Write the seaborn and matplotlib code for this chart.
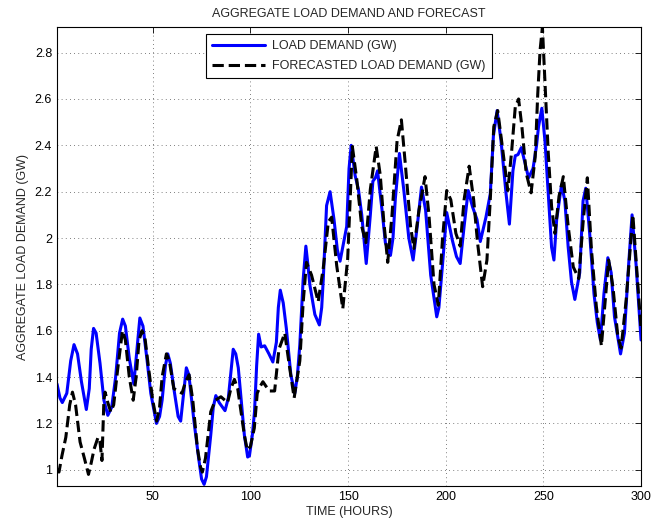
import seaborn as sns
import matplotlib.pyplot as plt
from matplotlib.ticker import FuncFormatter

# Aggregate load demand (GW)
load_hours = [1, 2.5, 3.7, 6, 8, 9.7, 11.5, 13.5, 16, 17.5, 18.5, 19.7, 21, 23, 25, 27, 29, 31, 33,
              34.6, 36, 38, 40.3, 41.5, 43.4, 45, 47, 49, 51.9, 53.5, 54.8, 56.5, 57.7, 59, 61, 63,
              64.3, 65.7, 67.2, 68.5, 71.1, 73.5, 75, 76.3, 77.5, 79.7, 81, 82.3, 84, 87, 88.7, 90,
              91.2, 92.5, 93.8, 95.5, 96.9, 98.6, 99.5, 101, 102.1, 103.2, 104.2, 105.5, 107.3,
              109.5, 111.5, 113.3, 114.3, 115.3, 116.8, 118.4, 120.7, 122.7, 124, 125.3, 127,
              128.4, 129.5, 130.4, 133, 135.3, 136.5, 137.3, 139, 140.8, 142.8, 144.5, 145.9,
              147.5, 149.3, 150.5, 151.6, 153.6, 155.3, 157, 159.3, 161.4, 162.7, 164, 165.1,
              167.4, 169.1, 171.7, 173, 174.2, 176.3, 178.5, 181.1, 183.3, 185.4, 187.6, 189.7,
              192.3, 195.4, 196.5, 198.3, 200.5, 203.4, 205.5, 207.4, 209.4, 211.5, 213.7, 216,
              217.7, 220.6, 222.8, 224.4, 226.3, 228.3, 230.9, 232.6, 234.4, 235.6, 237, 238.7,
              240.4, 242.4, 244.7, 246.5, 247.5, 249.2, 250.8, 252.5, 254.2, 255.4, 256.8, 259.3,
              261, 262.7, 264.4, 266.1, 268.6, 270.3, 271.7, 273.7, 275.9, 277.6, 279.2, 281, 283,
              284.7, 286.4, 289.5, 291.5, 293.6, 295.4, 297.5, 300]
load_gw = [1.37, 1.31, 1.29, 1.33, 1.47, 1.54, 1.50, 1.38, 1.26, 1.35, 1.52, 1.61, 1.59, 1.46, 1.30,
           1.235, 1.27, 1.40, 1.59, 1.65, 1.62, 1.48, 1.37, 1.48, 1.655, 1.62, 1.48, 1.33, 1.20,
           1.23, 1.30, 1.45, 1.50, 1.46, 1.34, 1.23, 1.21, 1.32, 1.44, 1.41, 1.21, 1.05, 0.96,
           0.937, 0.97, 1.15, 1.27, 1.32, 1.29, 1.255, 1.31, 1.42, 1.52, 1.50, 1.44, 1.28, 1.15,
           1.055, 1.06, 1.15, 1.25, 1.45, 1.585, 1.53, 1.535, 1.50, 1.465, 1.55, 1.70, 1.775,
           1.72, 1.61, 1.41, 1.33, 1.40, 1.54, 1.82, 1.965, 1.88, 1.80, 1.67, 1.625, 1.70, 1.82,
           2.14, 2.20, 2.08, 1.95, 1.90, 1.97, 2.05, 2.30, 2.40, 2.27, 2.21, 2.10, 1.89, 2.10,
           2.245, 2.26, 2.29, 2.12, 1.98, 1.925, 2.00, 2.17, 2.365, 2.21, 2.00, 1.905, 2.05, 2.22,
           2.12, 1.84, 1.66, 1.70, 1.88, 2.11, 1.99, 1.92, 1.89, 2.05, 2.205, 2.135, 2.08, 1.985,
           2.09, 2.19, 2.44, 2.55, 2.42, 2.19, 2.06, 2.29, 2.355, 2.36, 2.39, 2.33, 2.26, 2.30,
           2.40, 2.48, 2.56, 2.42, 2.19, 1.96, 1.905, 2.08, 2.23, 2.16, 1.96, 1.81, 1.735, 1.85,
           2.16, 2.215, 2.02, 1.76, 1.635, 1.56, 1.76, 1.915, 1.85, 1.66, 1.50, 1.59, 1.88, 2.10,
           1.88, 1.56]

# Forecasted load demand (GW)
forecast_hours = [1, 2, 3.5, 5.5, 7.5, 8.9, 10.5, 12.8, 15, 17.1, 18.5, 20, 22, 23, 24, 25, 25.6, 27,
                  28.5, 30, 32, 34.5, 36, 38, 40, 41.5, 43, 44.5, 46, 48, 50, 52, 53.5, 54.8, 57,
                  58.5, 60.8, 63, 65, 66.8, 68.6, 70.5, 72.9, 74.5, 75.4, 77, 79.7, 82, 84.9, 88.3,
                  90, 91.8, 93.5, 96.9, 98.4, 100, 102, 103.5, 105, 106.4, 108, 109.8, 112.4, 114.6,
                  117.6, 120.1, 122.4, 125.3, 127, 128.7, 131.3, 134.7, 137.3, 139.9, 141.6, 144.2,
                  147.3, 149.8, 152.2, 154.5, 157, 159.1, 161.4, 164.4, 166.5, 168.2, 170.3, 172.5,
                  175.1, 177.3, 179.4, 182, 183.7, 186.3, 189.4, 191.4, 194, 196.2, 198.3, 200.5,
                  202.6, 205.2, 207.4, 209.4, 212, 214.3, 216.3, 218.9, 221.1, 222.8, 224.6, 226.6,
                  229.2, 231.8, 233.8, 235.6, 237.3, 239, 241.2, 243.7, 245.8, 247.1, 248.3, 249.5,
                  250.8, 252.5, 254.2, 255.9, 258, 260.2, 262.7, 265.3, 268.1, 270.3, 272.5, 274.6,
                  277.1, 279.7, 281.7, 283.4, 285.6, 288.1, 289.8, 292.4, 295.8, 298.3, 300]
forecast_gw = [1.00, 0.99, 1.06, 1.14, 1.28, 1.335, 1.28, 1.12, 1.05, 0.98, 1.03, 1.09, 1.14, 1.12,
               1.04, 1.30, 1.335, 1.29, 1.25, 1.28, 1.43, 1.60, 1.56, 1.40, 1.30, 1.40, 1.56, 1.60,
               1.57, 1.43, 1.30, 1.21, 1.27, 1.40, 1.50, 1.47, 1.35, 1.34, 1.33, 1.38, 1.41, 1.30,
               1.09, 1.01, 0.99, 1.05, 1.25, 1.30, 1.315, 1.29, 1.35, 1.39, 1.35, 1.15, 1.085, 1.10,
               1.18, 1.33, 1.36, 1.38, 1.36, 1.34, 1.34, 1.52, 1.59, 1.44, 1.31, 1.47, 1.72, 1.895,
               1.84, 1.725, 1.87, 2.07, 2.09, 1.88, 1.695, 1.91, 2.395, 2.25, 2.05, 1.98, 2.21,
               2.395, 2.27, 2.08, 1.895, 2.10, 2.42, 2.51, 2.31, 2.05, 1.955, 2.12, 2.265, 2.10,
               1.80, 1.71, 1.99, 2.205, 2.165, 2.02, 1.965, 2.165, 2.31, 2.165, 1.98, 1.79, 1.905,
               2.165, 2.48, 2.55, 2.38, 2.205, 2.38, 2.565, 2.60, 2.48, 2.28, 2.195, 2.35, 2.62,
               2.81, 2.91, 2.67, 2.365, 2.135, 2.02, 2.18, 2.265, 2.05, 1.875, 1.825, 2.065, 2.26,
               1.95, 1.705, 1.535, 1.735, 1.905, 1.79, 1.575, 1.525, 1.735, 2.10, 1.805, 1.605]

x_ticks = [50, 100, 150, 200, 250, 300]
y_ticks = [1.0, 1.2, 1.4, 1.6, 1.8, 2.0, 2.2, 2.4, 2.6, 2.8]

sns.set_style("white")
plt.rcParams['font.family'] = ['Liberation Sans', 'DejaVu Sans']

fig = plt.figure(figsize=(6.67, 5.25), dpi=100)
ax = fig.add_axes([0.0855, 0.0743, 0.8756, 0.874])

sns.lineplot(x=load_hours, y=load_gw, ax=ax, color='#0000ff', linewidth=2.2,
             label='LOAD DEMAND (GW)')
sns.lineplot(x=forecast_hours, y=forecast_gw, ax=ax, color='black', linewidth=2.2,
             linestyle='--', dashes=(3, 2), label='FORECASTED LOAD DEMAND (GW)')

ax.set_xlim(1, 300)
ax.set_ylim(0.93, 2.91)
ax.set_xticks(x_ticks)
ax.set_yticks(y_ticks)
ax.yaxis.set_major_formatter(FuncFormatter(lambda v, p: f'{v:g}'))
ax.tick_params(direction='in', length=4, width=0.6, top=True, right=True,
               labelsize=9, colors='black')
ax.grid(True, linestyle=(0, (1, 4)), color='#555555', linewidth=0.6)
for s in ax.spines.values():
    s.set_color('black')
    s.set_linewidth(0.8)

ax.set_title('AGGREGATE LOAD DEMAND AND FORECAST', fontsize=9, pad=7)
ax.set_xlabel('TIME (HOURS)', fontsize=9, labelpad=2)
ax.set_ylabel('AGGREGATE LOAD DEMAND (GW)', fontsize=9, labelpad=4)

leg = ax.legend(loc='upper center', bbox_to_anchor=(0.5, 0.99), fontsize=9,
                frameon=True, fancybox=False, framealpha=1, edgecolor='black',
                borderpad=0.5, handlelength=4.2, handletextpad=0.6,
                labelspacing=0.6, borderaxespad=0.2)
leg.get_frame().set_linewidth(0.8)

fig.savefig('out.png', dpi=100)
